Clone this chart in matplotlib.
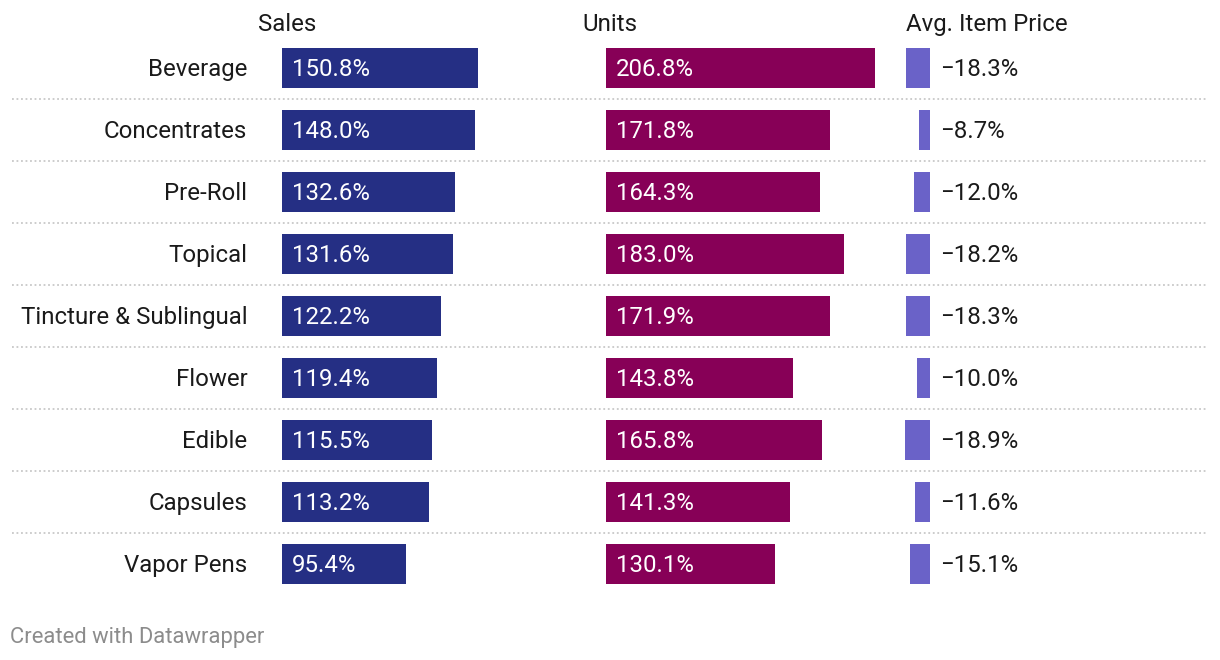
import matplotlib
matplotlib.use("Agg")
import matplotlib.pyplot as plt

categories = ["Beverage", "Concentrates", "Pre-Roll", "Topical", "Tincture & Sublingual",
              "Flower", "Edible", "Capsules", "Vapor Pens"]
sales = [150.8, 148.0, 132.6, 131.6, 122.2, 119.4, 115.5, 113.2, 95.4]
units = [206.8, 171.8, 164.3, 183.0, 171.9, 143.8, 165.8, 141.3, 130.1]
price = [-18.3, -8.7, -12.0, -18.2, -18.3, -10.0, -18.9, -11.6, -15.1]
headers = ["Sales", "Units", "Avg. Item Price"]

W, H = 1220, 660
plt.rcParams['font.family'] = ['Roboto', 'DejaVu Sans']
fig = plt.figure(figsize=(W / 100, H / 100), dpi=100)
fig.patch.set_facecolor("white")

K = 1.302          # px per percent
TOP, BOT = 37, 595  # rows area in px
n = len(categories)
BAR_H = 40 / 62

def fx(px):
    return px / W

def fy(py):
    return 1 - py / H

def make_ax(left_px, xmin, xmax):
    width_px = (xmax - xmin) * K
    ax = fig.add_axes([fx(left_px), fy(BOT), width_px / W, (BOT - TOP) / H])
    ax.set_xlim(xmin, xmax)
    ax.set_ylim(n - 0.5, -0.5)
    ax.axis("off")
    return ax

# background axes for separators
bg = fig.add_axes([0, fy(BOT), 1, (BOT - TOP) / H])
bg.set_xlim(0, W)
bg.set_ylim(n - 0.5, -0.5)
bg.axis("off")
for i in range(n - 1):
    bg.plot([12, 1208], [i + 0.5, i + 0.5], color="#c8c8c8", lw=1.3,
            linestyle=(0, (1, 1.5)), zorder=0)

FS = 17.3
VA = "center_baseline"
DY = 0.7
rows = list(range(n))

ax_s = make_ax(282, 0, 240)
ax_s.barh(rows, sales, height=BAR_H, color="#252f84", left=0)
for i, v in enumerate(sales):
    ax_s.annotate(f"{v:.1f}%", (0, i), xytext=(7, DY), textcoords="offset points",
                  ha="left", va=VA, color="white", fontsize=FS)

ax_u = make_ax(606, 0, 240)
ax_u.barh(rows, units, height=BAR_H, color="#870057")
for i, v in enumerate(units):
    ax_u.annotate(f"{v:.1f}%", (0, i), xytext=(7, DY), textcoords="offset points",
                  ha="left", va=VA, color="white", fontsize=FS)

ax_p = make_ax(930 - 40 * K, -40, 0)
ax_p.barh(rows, price, height=BAR_H, color="#6a62c8")
for i, v in enumerate(price):
    ax_p.annotate(f"\u2212{abs(v):.1f}%", (0, i), xytext=(7.2, DY), textcoords="offset points",
                  ha="left", va=VA, color="#1a1a1a", fontsize=FS,
                  annotation_clip=False)

# category labels
for i, c in enumerate(categories):
    ax_s.annotate(c, (0, i), xytext=(-25, DY), textcoords="offset points",
                  ha="right", va=VA, color="#1a1a1a", fontsize=FS,
                  annotation_clip=False)

# headers
for x0, h in zip([258, 582, 906], headers):
    fig.text(fx(x0), fy(22), h, ha="left", va=VA, color="#1a1a1a", fontsize=FS)

fig.text(fx(10), fy(635), "Created with Datawrapper", ha="left", va=VA,
         color="#8c8c8c", fontsize=15.85)

fig.savefig("out.png", dpi=100, facecolor="white")
